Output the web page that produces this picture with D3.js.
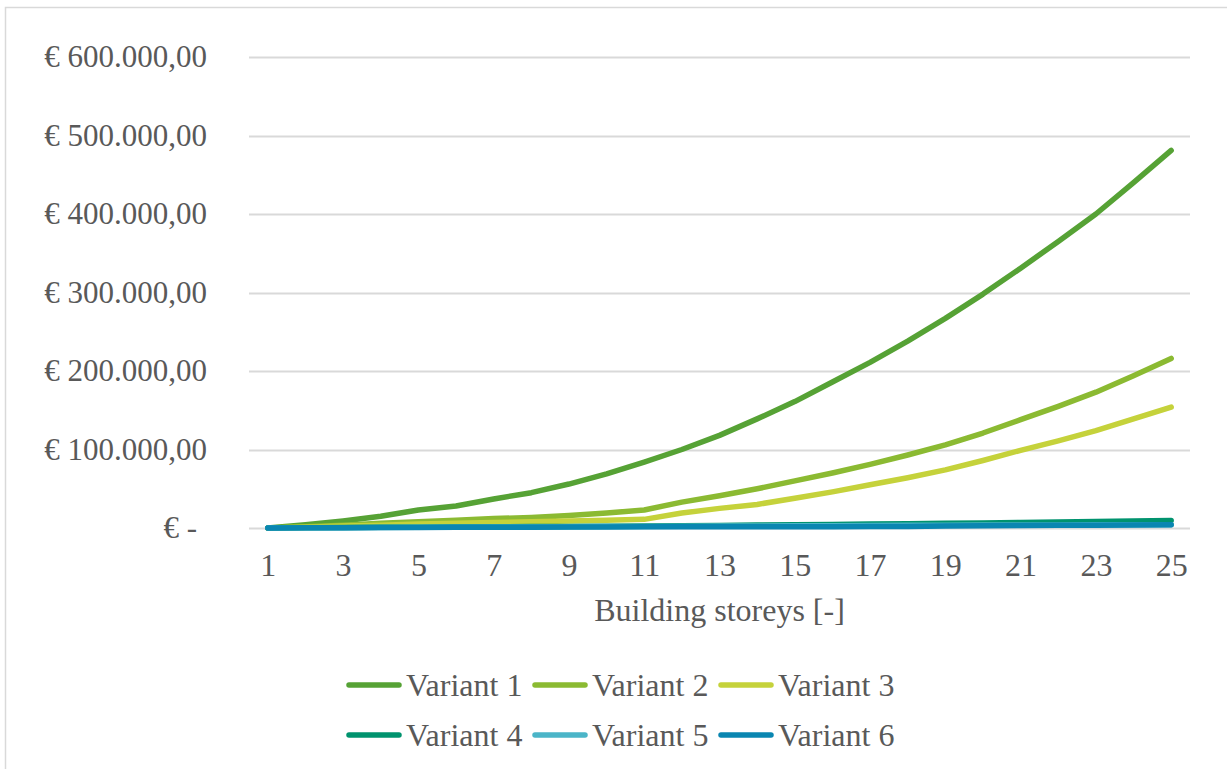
<!DOCTYPE html>
<html>
<head>
<meta charset="utf-8">
<script src="https://cdn.jsdelivr.net/npm/d3@7/dist/d3.min.js"></script>
<style>
  html, body { margin: 0; padding: 0; background: #ffffff; }
  svg { display: block; }
  text { font-family: "Liberation Serif", "Times New Roman", serif; fill: #595959; }
</style>
</head>
<body>
<svg id="chart" width="1227" height="769"></svg>
<script>
// Building storeys on the x axis
const storeys = d3.range(1, 26);
const storeyTicks = storeys.filter(s => s % 2 === 1);
const costTicks = [0, 100000, 200000, 300000, 400000, 500000, 600000];

// Cost per variant (EUR) for 1..25 storeys
const variant1 = [0, 4000, 9000, 15000, 23000, 28000, 37000, 45000, 56000, 69000, 84000, 100000, 118000, 139000, 161000, 186000, 211000, 238000, 267000, 298000, 331000, 365000, 400000, 440000, 481000];
const variant2 = [0, 1500, 3500, 6000, 8000, 10000, 12000, 13500, 16000, 19000, 23000, 33000, 41000, 50000, 60000, 70000, 81000, 93000, 106000, 121000, 138000, 155000, 173000, 194000, 216000];
const variant3 = [0, 1000, 2500, 3500, 5000, 6000, 7000, 8000, 9000, 10000, 11000, 19000, 25000, 30000, 38000, 46000, 55000, 64000, 74000, 86000, 99000, 111000, 124000, 139000, 154000];
const variant4 = [0, 300, 500, 800, 1000, 1200, 1500, 1800, 2000, 2300, 2600, 3000, 3300, 3700, 4000, 4500, 5000, 5400, 5900, 6500, 7000, 7600, 8200, 8900, 9500];
const variant5 = [0, 200, 400, 600, 800, 1000, 1200, 1400, 1600, 1800, 2000, 2200, 2400, 2600, 2800, 3000, 3200, 3400, 3600, 3700, 3800, 3900, 4000, 4000, 4100];
const variant6 = [0, 200, 400, 500, 700, 800, 1000, 1100, 1200, 1400, 1500, 1500, 1600, 1600, 1700, 1700, 1800, 2000, 2600, 3000, 3200, 3400, 3600, 3800, 4000];

const seriesNames = ["Variant 1", "Variant 2", "Variant 3", "Variant 4", "Variant 5", "Variant 6"];
const seriesValues = [variant1, variant2, variant3, variant4, variant5, variant6];
const seriesColors = ["#56a235", "#8bba32", "#c5d23b", "#00936e", "#4bb5c8", "#0a86b1"];

const svg = d3.select("#chart");

// chart frame
svg.append("path")
  .attr("d", "M5.5,769 V7.5 H1227")
  .attr("fill", "none")
  .attr("stroke", "#d9d9d9")
  .attr("stroke-width", 1.5);

const plot = { left: 249, right: 1190, top: 57, bottom: 528 };

const x = d3.scalePoint()
  .domain(storeys)
  .range([plot.left, plot.right])
  .padding(0.5);

const y = d3.scaleLinear()
  .domain([0, 600000])
  .range([plot.bottom, plot.top]);

const euro = d3.formatLocale({
  decimal: ",", thousands: ".", grouping: [3], currency: ["€ ", ""]
}).format("$,.2f");

// horizontal gridlines
svg.append("g")
  .selectAll("line")
  .data(costTicks)
  .join("line")
  .attr("x1", plot.left)
  .attr("x2", plot.right)
  .attr("y1", d => Math.round(y(d)) + 0.5)
  .attr("y2", d => Math.round(y(d)) + 0.5)
  .attr("stroke", "#d9d9d9")
  .attr("stroke-width", 2);

// y axis labels
const yAxis = d3.axisLeft(y)
  .tickValues(costTicks)
  .tickSize(0)
  .tickPadding(0)
  .tickFormat(d => d === 0 ? "€ -" : euro(d));

const gy = svg.append("g")
  .attr("transform", "translate(207,0)")
  .call(yAxis);
gy.select(".domain").remove();
gy.selectAll("text")
  .attr("font-size", 31)
  .attr("fill", "#595959")
  .attr("font-family", "Liberation Serif, Times New Roman, serif")
  .attr("dx", d => d === 0 ? -10 : 0);

// x axis labels
const xAxis = d3.axisBottom(x)
  .tickValues(storeyTicks)
  .tickSize(0)
  .tickPadding(0);

const gx = svg.append("g")
  .attr("transform", `translate(0,${plot.bottom + 25})`)
  .call(xAxis);
gx.select(".domain").remove();
gx.selectAll("text")
  .attr("font-size", 32)
  .attr("fill", "#595959")
  .attr("font-family", "Liberation Serif, Times New Roman, serif");

// x axis title
svg.append("text")
  .attr("x", (plot.left + plot.right) / 2)
  .attr("y", 621)
  .attr("text-anchor", "middle")
  .attr("font-size", 32)
  .text("Building storeys [-]");

// series lines
const line = d3.line()
  .x((d, i) => x(storeys[i]))
  .y(d => y(d));

svg.append("g")
  .selectAll("path")
  .data(seriesValues)
  .join("path")
  .attr("d", d => line(d))
  .attr("fill", "none")
  .attr("stroke", (d, i) => seriesColors[i])
  .attr("stroke-width", 5.5)
  .attr("stroke-linejoin", "round")
  .attr("stroke-linecap", "round");

// legend
const legendX = [347, 533, 719];
const legendY = [685, 735];
const legend = svg.append("g")
  .selectAll("g")
  .data(seriesNames)
  .join("g")
  .attr("transform", (d, i) => `translate(${legendX[i % 3]},${legendY[Math.floor(i / 3)]})`);

legend.append("line")
  .attr("x1", 2)
  .attr("x2", 52)
  .attr("stroke", (d, i) => seriesColors[i])
  .attr("stroke-width", 5.5)
  .attr("stroke-linecap", "round");

legend.append("text")
  .attr("x", 59)
  .attr("dy", "0.35em")
  .attr("font-size", 32)
  .text(d => d);
</script>
</body>
</html>
